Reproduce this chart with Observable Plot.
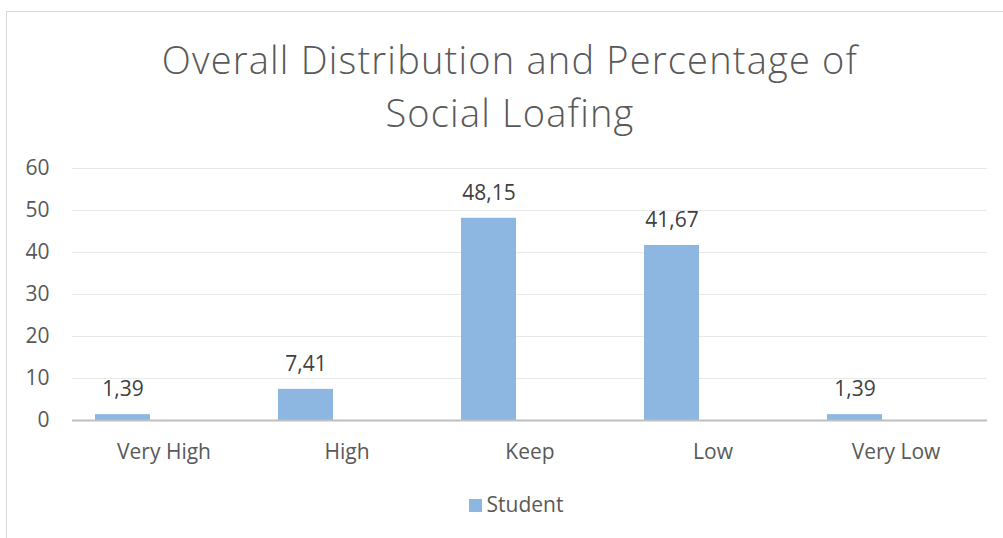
<!DOCTYPE html>
<html>
<head>
<meta charset="utf-8">
<script src="https://cdn.jsdelivr.net/npm/d3@7"></script>
<script src="https://cdn.jsdelivr.net/npm/@observablehq/plot@0.6"></script>
<style>
  html, body { margin: 0; padding: 0; background: #fff; overflow: hidden; }
  body { width: 1003px; height: 538px; position: relative; font-family: "Open Sans", sans-serif; }
  #frame { position: absolute; left: 6px; top: 11px; width: 1100px; height: 600px; border: 1px solid #d9d9d9; box-sizing: border-box; }
  .title { position: absolute; left: 0; width: 1020px; text-align: center; font-size: 38px; letter-spacing: 1.2px; font-weight: 300; color: #595959; line-height: 40px; height: 40px; }
  #t1 { top: 39px; }
  #t2 { top: 92px; }
  #chart { position: absolute; left: 0; top: 150px; }
  #legend { position: absolute; top: 490px; left: 0; width: 1032px; text-align: center; font-size: 21px; color: #595959; }
  #legend .sw { display: inline-block; width: 13px; height: 13px; background: #8db7e1; margin-right: 5px; vertical-align: 0px; }
</style>
</head>
<body>
<div id="frame"></div>
<div class="title" id="t1">Overall Distribution and Percentage of</div>
<div class="title" id="t2">Social Loafing</div>
<div id="chart"></div>
<div id="legend"><span class="sw"></span>Student</div>
<script>
const categories = ["Very High", "High", "Keep", "Low", "Very Low"];
const studentValues = [1.39, 7.41, 48.15, 41.67, 1.39];
const yTicks = [0, 10, 20, 30, 40, 50, 60];
const seriesName = "Student";

const data = categories.map((c, i) => ({category: c, value: studentValues[i], series: seriesName}));
const fmt = v => v.toFixed(2).replace(".", ",");

const chart = Plot.plot({
  width: 1003,
  height: 330,
  marginLeft: 72,
  marginRight: 16,
  marginTop: 18,
  marginBottom: 60,
  style: {fontFamily: "'Open Sans', sans-serif", fontSize: "21px", color: "#595959", background: "transparent"},
  x: {domain: categories, padding: 0, label: null},
  y: {domain: [0, 60], label: null},
  marks: [
    Plot.gridY(yTicks, {stroke: "#e8e8e8", strokeOpacity: 1, strokeWidth: 1}),
    Plot.barY(data, {x: "category", y: "value", fill: "#8db7e1", insetLeft: 23, insetRight: 105}),
    Plot.ruleY([0], {stroke: "#bfbfbf", strokeWidth: 2}),
    Plot.text(data, {x: "category", y: "value", text: d => fmt(d.value), dx: -41, dy: -25, fill: "#404040", fontSize: 21}),
    Plot.axisY(yTicks, {tickSize: 0, tickPadding: 23, fontSize: 21, fill: "#595959", label: null}),
    Plot.axisX({tickSize: 0, tickPadding: 24, fontSize: 21, fill: "#595959", label: null})
  ]
});
document.getElementById("chart").appendChild(chart);
</script>
</body>
</html>
